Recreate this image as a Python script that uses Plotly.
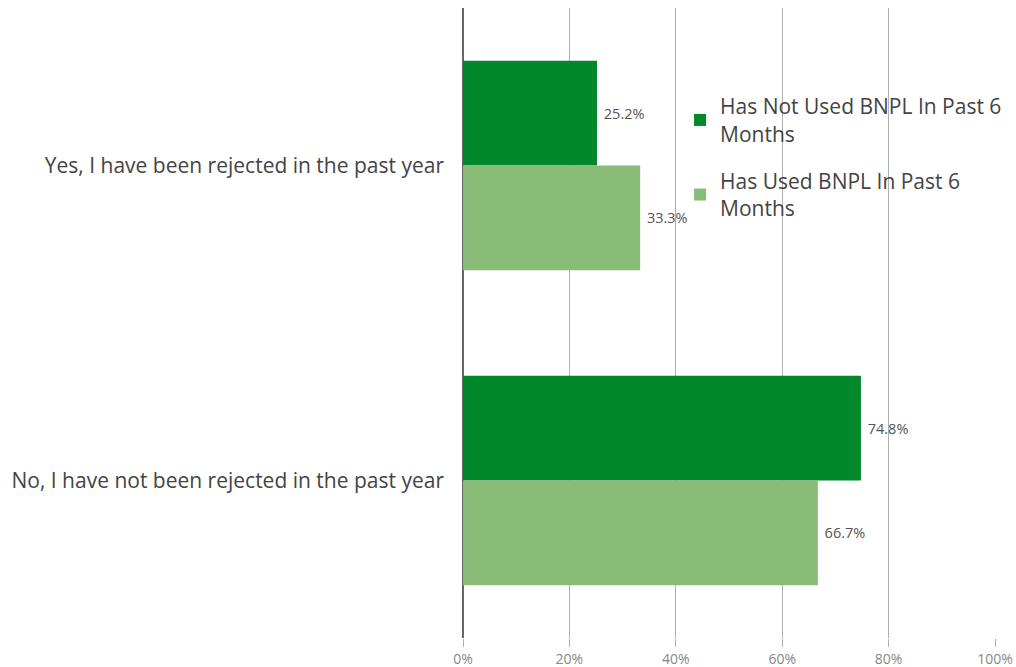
import plotly.graph_objects as go

# survey answers and shares
categories = ["Yes, I have been rejected in the past year",
              "No, I have not been rejected in the past year"]
not_used = [25.2, 74.8]
used = [33.3, 66.7]
series_names = ["Has Not Used BNPL In Past 6<br>Months",
                "Has Used BNPL In Past 6<br>Months"]
tick_vals = [0, 20, 40, 60, 80, 100]
tick_text = ["0%", "20%", "40%", "60%", "80%", "100%"]

font = "'Open Sans', sans-serif"

fig = go.Figure()
for i, (name, vals, color) in enumerate([(series_names[0], not_used, "#00882b"),
                                         (series_names[1], used, "#88bc77")]):
    fig.add_trace(go.Bar(
        x=vals, y=categories, orientation="h", name=name,
        legendgroup=f"g{i}",
        marker=dict(color=color, line=dict(width=0)),
        texttemplate="\u00a0%{x:.1f}%", textposition="outside",
        textfont=dict(size=14.5, color="#555555", family=font),
        cliponaxis=False,
    ))

fig.update_layout(
    width=1016, height=667,
    barmode="group", bargap=0.335, bargroupgap=0,
    plot_bgcolor="white", paper_bgcolor="white",
    margin=dict(l=463, r=21, t=8, b=29),
    font=dict(family=font, color="#444444"),
    showlegend=True,
    legend=dict(x=0.408, y=0.876, xanchor="left", yanchor="top",
                bgcolor="rgba(0,0,0,0)", font=dict(size=21, color="#444444"),
                itemwidth=30, tracegroupgap=17),
    xaxis=dict(range=[0, 100], tickvals=tick_vals, ticktext=tick_text,
               showgrid=True, gridcolor="#b0b0b0", gridwidth=1,
               zeroline=True, zerolinecolor="#666666", zerolinewidth=1.5,
               ticks="outside", ticklen=8, tickcolor="#b0b0b0",
               tickfont=dict(size=14, color="#888888"), showline=False,
               automargin=False),
    yaxis=dict(autorange="reversed", tickfont=dict(size=21, color="#444444"),
               ticks="", ticklabelstandoff=18, showgrid=False,
               automargin=False),
)

# drop the default page margin so the figure fills the window exactly
fig.write_html("out.html", config={"displayModeBar": False},
               post_script="document.body.style.margin='0';"
                           "document.body.style.overflow='hidden';")
